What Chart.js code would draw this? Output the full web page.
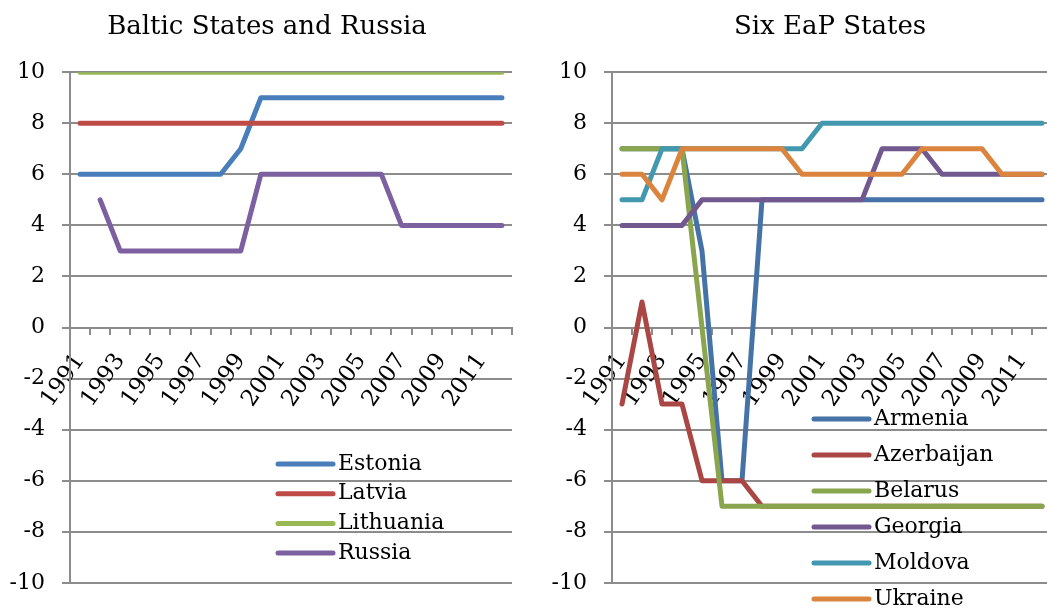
<!DOCTYPE html>
<html>
<head>
<meta charset="utf-8">
<title>Polity scores</title>
<script src="https://cdn.jsdelivr.net/npm/chart.js@4.4.1/dist/chart.umd.min.js"></script>
<style>
    html, body { margin: 0; padding: 0; background: #fff; overflow: hidden; }
    body { width: 1047px; height: 613px; position: relative; }
    .box { position: absolute; top: 0; }
    #left { left: 0; }
    #right { left: 530px; }
</style>
</head>
<body>
<div class="box" id="left"><canvas id="chart-baltic" width="534" height="613"></canvas></div>
<div class="box" id="right"><canvas id="chart-eap" width="600" height="613"></canvas></div>
<script>
    // Data
    const years = ["1991", "1992", "1993", "1994", "1995", "1996", "1997", "1998", "1999", "2000", "2001",
        "2002", "2003", "2004", "2005", "2006", "2007", "2008", "2009", "2010", "2011", "2012"];
    const yTicks = [-10, -8, -6, -4, -2, 0, 2, 4, 6, 8, 10];

    const balticNames = ["Estonia", "Latvia", "Lithuania", "Russia"];
    const estonia   = [6, 6, 6, 6, 6, 6, 6, 6, 7, 9, 9, 9, 9, 9, 9, 9, 9, 9, 9, 9, 9, 9];
    const latvia    = [8, 8, 8, 8, 8, 8, 8, 8, 8, 8, 8, 8, 8, 8, 8, 8, 8, 8, 8, 8, 8, 8];
    const lithuania = [10, 10, 10, 10, 10, 10, 10, 10, 10, 10, 10, 10, 10, 10, 10, 10, 10, 10, 10, 10, 10, 10];
    const russia    = [null, 5, 3, 3, 3, 3, 3, 3, 3, 6, 6, 6, 6, 6, 6, 6, 4, 4, 4, 4, 4, 4];

    const eapNames = ["Armenia", "Azerbaijan", "Belarus", "Georgia", "Moldova", "Ukraine"];
    const armenia    = [7, 7, 7, 7, 3, -6, -6, 5, 5, 5, 5, 5, 5, 5, 5, 5, 5, 5, 5, 5, 5, 5];
    const azerbaijan = [-3, 1, -3, -3, -6, -6, -6, -7, -7, -7, -7, -7, -7, -7, -7, -7, -7, -7, -7, -7, -7, -7];
    const belarus    = [7, 7, 7, 7, 0, -7, -7, -7, -7, -7, -7, -7, -7, -7, -7, -7, -7, -7, -7, -7, -7, -7];
    const georgia    = [4, 4, 4, 4, 5, 5, 5, 5, 5, 5, 5, 5, 5, 7, 7, 7, 6, 6, 6, 6, 6, 6];
    const moldova    = [5, 5, 7, 7, 7, 7, 7, 7, 7, 7, 8, 8, 8, 8, 8, 8, 8, 8, 8, 8, 8, 8];
    const ukraine    = [6, 6, 5, 7, 7, 7, 7, 7, 7, 6, 6, 6, 6, 6, 6, 7, 7, 7, 7, 6, 6, 6];

    const FONT = "'DejaVu Serif', serif";
    const GRID = "#8c8c8c";

    // legend drawn inside the plot, like the excel one
    const insideLegend = {
        id: "insideLegend",
        afterDraw(chart, args, opts) {
            const ctx = chart.ctx;
            ctx.save();
            ctx.font = "22px " + FONT;
            ctx.textBaseline = "middle";
            ctx.textAlign = "left";
            ctx.fillStyle = "#000";
            chart.data.datasets.forEach((ds, i) => {
                const y = opts.y + i * opts.step;
                ctx.strokeStyle = ds.borderColor;
                ctx.lineWidth = 5;
                ctx.lineCap = "round";
                ctx.beginPath();
                ctx.moveTo(opts.x, y);
                ctx.lineTo(opts.x + 55, y);
                ctx.stroke();
                ctx.fillText(ds.label, opts.x + 60, y);
            });
            ctx.restore();
        }
    };

    const buildChart = (id, title, names, series, colors, legend, axisWidth, padRight) => {
        const ctx = document.getElementById(id).getContext("2d");
        return new Chart(ctx, {
            type: "line",
            data: {
                labels: years,
                datasets: series.map((data, i) => ({
                    label: names[i],
                    data: data,
                    borderColor: colors[i],
                    backgroundColor: colors[i],
                    borderWidth: 5,
                    borderCapStyle: "round",
                    borderJoinStyle: "round",
                    pointRadius: 0,
                    tension: 0,
                    order: -i
                }))
            },
            options: {
                responsive: false,
                animation: false,
                devicePixelRatio: 1,
                layout: { padding: { left: 0, right: 0, top: 0, bottom: 26 } },
                plugins: {
                    legend: { display: false },
                    tooltip: { enabled: false },
                    title: {
                        display: true,
                        text: title,
                        color: "#000",
                        font: { family: FONT, size: 26, weight: "normal" },
                        padding: { top: 12, bottom: 29 }
                    },
                    insideLegend: legend
                },
                scales: {
                    x: {
                        position: { y: 0 },
                        offset: true,
                        grid: { offset: true, drawOnChartArea: false, tickLength: 6, color: GRID, lineWidth: 2 },
                        border: { color: GRID, width: 2 },
                        ticks: {
                            autoSkip: false,
                            minRotation: 55,
                            maxRotation: 55,
                            padding: 15,
                            color: "#000",
                            font: { family: FONT, size: 23 },
                            callback: (v, i) => (i % 2 === 0 ? years[i] : "")
                        },
                        // keep the title centred on the whole canvas, trim the plot on the right only
                        afterFit: s => { s.paddingLeft = 0; s.paddingRight = padRight; }
                    },
                    y: {
                        min: yTicks[0],
                        max: yTicks[yTicks.length - 1],
                        afterBuildTicks: s => { s.ticks = yTicks.map(v => ({ value: v })); },
                        grid: { color: GRID, lineWidth: 2, tickLength: 8 },
                        border: { color: GRID, width: 2 },
                        ticks: { padding: 17, color: "#000", font: { family: FONT, size: 22 } },
                        afterFit: s => { s.width = axisWidth; }
                    }
                }
            },
            plugins: [insideLegend]
        });
    };

    // Baltic States and Russia
    buildChart("chart-baltic", "Baltic States and Russia", balticNames,
        [estonia, latvia, lithuania, russia],
        ["#4a7ebb", "#be4b48", "#98b954", "#7d60a0"],
        { x: 278, y: 464, step: 29.7 }, 70, 22);

    // Six EaP States
    buildChart("chart-eap", "Six EaP States", eapNames,
        [armenia, azerbaijan, belarus, georgia, moldova, ukraine],
        ["#4572a7", "#aa4643", "#89a54e", "#71588f", "#4198af", "#db843d"],
        { x: 284, y: 419, step: 36 }, 82, 78);
</script>
</body>
</html>
